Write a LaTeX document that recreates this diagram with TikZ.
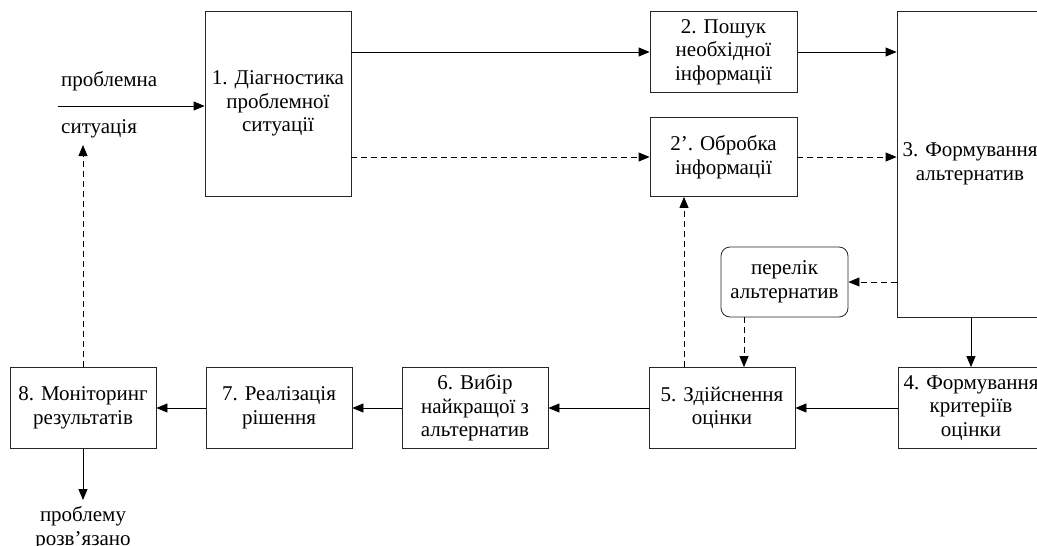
\documentclass[tikz,border=0pt]{standalone}
\usepackage{fontspec}
\setmainfont{Liberation Serif}
\usetikzlibrary{arrows.meta}
\tikzset{
  box/.style={draw=black!85, line width=0.8pt, align=center, inner sep=0pt,
    font=\fontsize{21}{23.5}\selectfont, anchor=center},
  lbl/.style={inner sep=0pt, align=center, font=\fontsize{21}{23.5}\selectfont},
  arr/.style={-{Triangle[length=11pt,width=9pt]}, line width=0.8pt, black},
  dsh/.style={arr, dash pattern=on 6pt off 4pt},
}
\begin{document}
\begin{tikzpicture}[x=1pt,y=-1pt]
\useasboundingbox (0,0) rectangle (1037,546);
\clip (0,0) rectangle (1037,546);
% boxes
\node[box, minimum width=146pt, minimum height=185pt] (b1) at (278,103.5) {1. Діагностика\\проблемної\\ситуації};
\node[box, minimum width=147pt, minimum height=81pt] (b2) at (723.5,52) {2. Пошук\\необхідної\\інформації};
\node[box, minimum width=147pt, minimum height=79pt] (b2p) at (723.5,157) {2’. Обробка\\інформації};
\node[box, minimum width=146pt, minimum height=306pt] (b3) at (970,164) {3. Формування\\альтернатив};
\node[box, rounded corners=9pt, minimum width=127pt, minimum height=70pt] (lst) at (784.5,282) {перелік\\альтернатив};
\node[box, minimum width=146pt, minimum height=81pt] (b4) at (971,408) {4. Формування\\критеріїв\\оцінки};
\node[box, minimum width=146pt, minimum height=81pt] (b5) at (722,408) {5. Здійснення\\оцінки};
\node[box, minimum width=146pt, minimum height=81pt] (b6) at (475,408) {6. Вибір\\найкращої з\\альтернатив};
\node[box, minimum width=146pt, minimum height=81pt] (b7) at (279,408) {7. Реалізація\\рішення};
\node[box, minimum width=146pt, minimum height=81pt] (b8) at (83,408) {8. Моніторинг\\результатів};
% free labels
\node[lbl, anchor=west] (pr) at (61,81) {проблемна};
\node[lbl, anchor=west] (sit) at (61,129) {ситуація};
\node[lbl] (solved) at (83,528) {проблему\\розв’язано};
% coordinates
\coordinate (inp) at (58,106);
\coordinate (tipu) at (83,145);
\coordinate (outd) at (83,500);
\coordinate (xl) at (744,0);
\coordinate (xo) at (684,0);
% connectors
\draw[arr] (inp) -- (inp -| b1.west);
\draw[arr] (b1.east |- b2.west) -- (b2.west);
\draw[dsh] (b1.east |- b2p.west) -- (b2p.west);
\draw[arr] (b2.east) -- (b2.east -| b3.west);
\draw[dsh] (b2p.east) -- (b2p.east -| b3.west);
\draw[dsh] (b3.west |- lst.east) -- (lst.east);
\draw[dsh] (lst.south -| xl) -- (b5.north -| xl);
\draw[dsh] (b5.north -| xo) -- (b2p.south -| xo);
\draw[arr] (b3.south -| b4.north) -- (b4.north);
\draw[arr] (b4.west) -- (b5.east);
\draw[arr] (b5.west) -- (b6.east);
\draw[arr] (b6.west) -- (b7.east);
\draw[arr] (b7.west) -- (b8.east);
\draw[dsh] (b8.north) -- (tipu);
\draw[arr] (b8.south) -- (outd);
\end{tikzpicture}
\end{document}
